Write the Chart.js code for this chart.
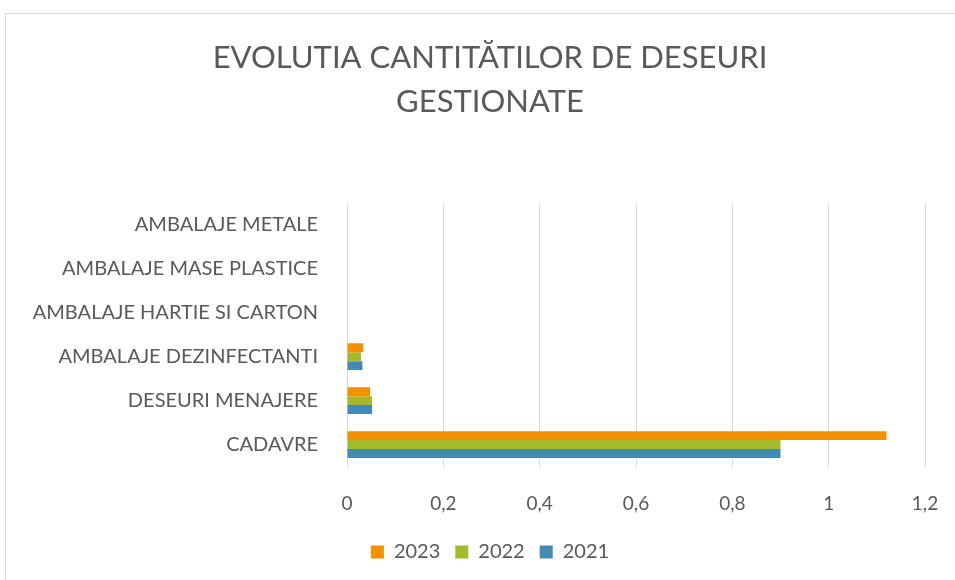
<!DOCTYPE html>
<html>
<head>
<meta charset="utf-8">
<script src="https://cdn.jsdelivr.net/npm/chart.js@4"></script>
<style>
  html, body { margin: 0; padding: 0; background: #fff; overflow: hidden; }
  #wrap { width: 955px; height: 580px; position: relative; }
</style>
</head>
<body>
<div id="wrap"><canvas id="chart"></canvas></div>
<script>
// categories listed top to bottom, as in the picture
const categories = [
    'AMBALAJE METALE',
    'AMBALAJE MASE PLASTICE',
    'AMBALAJE HARTIE SI CARTON',
    'AMBALAJE DEZINFECTANTI',
    'DESEURI MENAJERE',
    'CADAVRE'
];
const values2023 = [0, 0, 0, 0.034, 0.048, 1.12];
const values2022 = [0, 0, 0, 0.029, 0.052, 0.9];
const values2021 = [0, 0, 0, 0.032, 0.052, 0.9];
const xTicks = [0, 0.2, 0.4, 0.6, 0.8, 1, 1.2];

const textColor = '#595959';
const fontFamily = 'Lato, "Open Sans", sans-serif';

// grey frame of the chart object + recentre title/legend on it
const frame = {
    id: 'frame',
    afterLayout(chart) {
        chart.titleBlock.left = 25;
        chart.titleBlock.right = 955;
        chart.legend.left = 25;
        chart.legend.right = 955;
    },
    beforeDraw(chart) {
        const ctx = chart.ctx;
        ctx.save();
        ctx.strokeStyle = '#d9d9d9';
        ctx.lineWidth = 1;
        ctx.strokeRect(5.5, 13.5, 2000, 2000);
        ctx.restore();
    }
};

new Chart(document.getElementById('chart'), {
    type: 'bar',
    data: {
        labels: categories,
        datasets: [
            { label: '2023', data: values2023, backgroundColor: '#F39200' },
            { label: '2022', data: values2022, backgroundColor: '#A5BA2B' },
            { label: '2021', data: values2021, backgroundColor: '#4389B6' }
        ]
    },
    options: {
        indexAxis: 'y',
        responsive: true,
        maintainAspectRatio: false,
        animation: false,
        layout: { padding: { left: 0, right: 30, top: 0, bottom: 8 } },
        datasets: {
            bar: { categoryPercentage: 0.61, barPercentage: 1 }
        },
        scales: {
            x: {
                min: 0,
                max: 1.2,
                afterBuildTicks: (scale) => { scale.ticks = xTicks.map(v => ({ value: v })); },
                afterFit: (scale) => {
                    scale.height = 60.5;
                    scale.paddingRight = 30;
                },
                grid: { color: '#d9d9d9', drawTicks: false },
                border: { display: false },
                ticks: {
                    color: textColor,
                    padding: 26,
                    maxRotation: 0,
                    autoSkip: false,
                    font: { family: fontFamily, size: 19 },
                    callback: (v) => String(Math.round(v * 10) / 10).replace('.', ',')
                }
            },
            y: {
                grid: { display: false, drawTicks: false },
                border: { display: false },
                afterFit: (scale) => { scale.width = 347; },
                ticks: {
                    color: textColor,
                    padding: 29,
                    font: { family: fontFamily, size: 20 }
                }
            }
        },
        plugins: {
            title: {
                display: true,
                text: ['EVOLUTIA CANTITĂTILOR DE DESEURI', 'GESTIONATE'],
                color: textColor,
                font: { family: fontFamily, size: 31, weight: 'normal', lineHeight: 1.42 },
                padding: { top: 36, bottom: 79 }
            },
            legend: {
                position: 'bottom',
                labels: {
                    color: textColor,
                    boxWidth: 13,
                    boxHeight: 13,
                    padding: 15,
                    font: { family: fontFamily, size: 20 }
                }
            },
            tooltip: { enabled: false }
        }
    },
    plugins: [frame]
});
</script>
</body>
</html>
